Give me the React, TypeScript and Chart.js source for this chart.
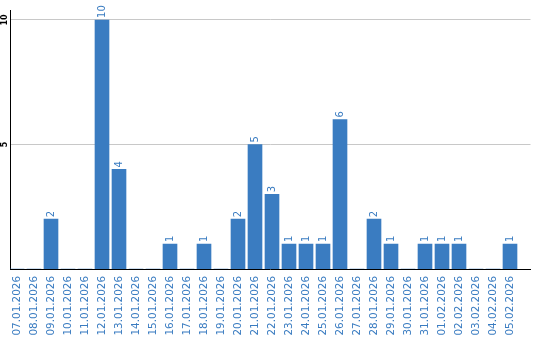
import React, { useEffect, useRef } from "react";
import { Chart, registerables } from "chart.js";

Chart.register(...registerables);

const dates = [
  "07.01.2026", "08.01.2026", "09.01.2026", "10.01.2026", "11.01.2026",
  "12.01.2026", "13.01.2026", "14.01.2026", "15.01.2026", "16.01.2026",
  "17.01.2026", "18.01.2026", "19.01.2026", "20.01.2026", "21.01.2026",
  "22.01.2026", "23.01.2026", "24.01.2026", "25.01.2026", "26.01.2026",
  "27.01.2026", "28.01.2026", "29.01.2026", "30.01.2026", "31.01.2026",
  "01.02.2026", "02.02.2026", "03.02.2026", "04.02.2026", "05.02.2026",
];
const counts = [0, 0, 2, 0, 0, 10, 4, 0, 0, 1, 0, 1, 0, 2, 5, 3, 1, 1, 1, 6, 0, 2, 1, 0, 1, 1, 1, 0, 0, 1];
const yTicks = [5, 10];
const yMax = 10.4;

const BLUE = "#3a7cc1";
const FONT = '"DejaVu Sans", Verdana, sans-serif';

const valueLabels = {
  id: "valueLabels",
  afterDatasetsDraw(chart: any) {
    const ctx = chart.ctx;
    const meta = chart.getDatasetMeta(0);
    ctx.save();
    ctx.font = `10px ${FONT}`;
    ctx.fillStyle = BLUE;
    ctx.textAlign = "left";
    ctx.textBaseline = "middle";
    meta.data.forEach((el: any, i: number) => {
      const v = counts[i];
      if (!v) return;
      ctx.save();
      ctx.translate(el.x, el.y - 2);
      ctx.rotate(-Math.PI / 2);
      ctx.fillText(String(v), 0, 0);
      ctx.restore();
    });
    ctx.restore();
  },
};

export default function App() {
  const ref = useRef<HTMLCanvasElement | null>(null);

  useEffect(() => {
    document.body.style.margin = "0";
    const canvas = ref.current;
    if (!canvas) return;
    const xMin = -7 / 17;
    const xMax = xMin + 520.5 / 17;
    const chart = new Chart(canvas, {
      type: "bar",
      data: {
        datasets: [
          {
            data: counts.map((v, i) => ({ x: i, y: v })),
            backgroundColor: BLUE,
            borderWidth: 0,
            barThickness: 14,
          } as any,
        ],
      },
      options: {
        animation: false,
        responsive: false,
        devicePixelRatio: 1,
        layout: { padding: { top: 10, right: 9.5, left: 0, bottom: 0 } },
        plugins: { legend: { display: false }, tooltip: { enabled: false } },
        scales: {
          x: {
            type: "linear",
            bounds: "data",
            offset: false,
            min: xMin,
            max: xMax,
            afterBuildTicks: (s: any) => {
              s.ticks = dates.map((_, i) => ({ value: i }));
              s.min = xMin;
              s.max = xMax;
            },
            afterFit: (s: any) => {
              s.height = 71;
              s.paddingLeft = 0;
              s.paddingRight = 0;
              s.paddingTop = 0;
              s.paddingBottom = 0;
            },
            grid: { display: false, drawTicks: false },
            border: { display: true, color: "#000", width: 1 },
            ticks: {
              autoSkip: false,
              minRotation: 90,
              maxRotation: 90,
              padding: 7,
              color: BLUE,
              font: { family: FONT, size: 10.4 },
              callback: (v: any) => dates[Math.round(Number(v))] ?? "",
            },
          },
          y: {
            bounds: "data",
            min: 0,
            max: yMax,
            afterBuildTicks: (s: any) => {
              s.ticks = yTicks.map((v) => ({ value: v }));
              s.min = 0;
              s.max = yMax;
            },
            afterFit: (s: any) => {
              s.width = 10;
              s.paddingLeft = 0;
              s.paddingRight = 0;
              s.paddingTop = 0;
              s.paddingBottom = 0;
            },
            grid: { color: "#c8c8c8", drawTicks: false },
            border: { display: true, color: "#000", width: 1 },
            ticks: {
              minRotation: 90,
              maxRotation: 90,
              crossAlign: "center",
              padding: 0,
              color: "#000",
              font: { family: FONT, size: 8, weight: "bold" },
            },
          },
        },
      },
      plugins: [valueLabels],
    });
    return () => chart.destroy();
  }, []);

  return <canvas ref={ref} width={540} height={340} style={{ display: "block" }} />;
}
